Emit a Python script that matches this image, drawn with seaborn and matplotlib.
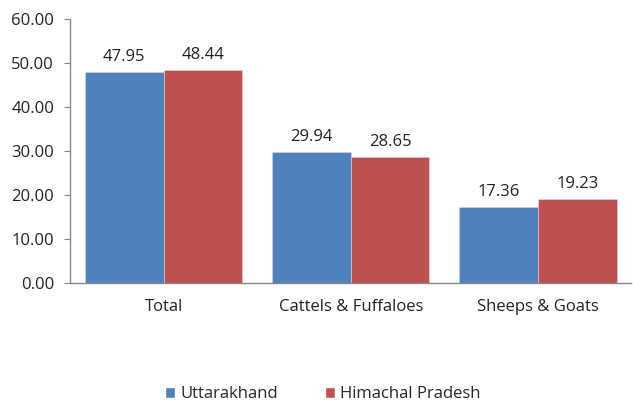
import matplotlib
matplotlib.use("Agg")
import matplotlib.pyplot as plt
import seaborn as sns
import pandas as pd
from matplotlib.patches import Patch

categories = ["Total", "Cattels & Fuffaloes", "Sheeps & Goats"]
series_names = ["Uttarakhand", "Himachal Pradesh"]
uttarakhand = [47.95, 29.94, 17.36]
himachal = [48.44, 28.65, 19.23]
colors = ["#4F81BD", "#C0504D"]

df = pd.DataFrame({
    "category": categories * 2,
    "state": [series_names[0]] * 3 + [series_names[1]] * 3,
    "value": uttarakhand + himachal,
})

sns.set_style("white")
plt.rcParams["font.family"] = ["Open Sans", "DejaVu Sans"]

fig = plt.figure(figsize=(6.33, 4.03), dpi=100)
ax = fig.add_axes([0.1106, 0.297, 0.887, 0.655])

sns.barplot(data=df, x="category", y="value", hue="state", order=categories,
            hue_order=series_names, palette=colors, width=0.84, ax=ax,
            errorbar=None, legend=False, saturation=1,
            edgecolor="#d8d8e8", linewidth=0.4)

for c in ax.containers:
    ax.bar_label(c, fmt="%.2f", padding=5, fontsize=12, color="#222222")

ax.set_xlim(-0.5, 2.5)
ax.set_ylim(0, 60)
ax.set_yticks(range(0, 61, 10))
ax.set_yticklabels([f"{v:.2f}" for v in range(0, 61, 10)], fontsize=12, color="#222222")
ax.set_xticks(range(3))
ax.set_xticklabels(categories, fontsize=12, color="#222222")
ax.tick_params(axis="x", which="major", length=0, pad=11)
ax.set_xticks([0.5, 1.5], minor=True)
ax.tick_params(axis="x", which="minor", length=4, color="#888888", direction="out")
ax.tick_params(axis="y", length=4.5, color="#888888", direction="out", left=True, pad=7)
ax.set_xlabel("")
ax.set_ylabel("")
for s in ["top", "right"]:
    ax.spines[s].set_visible(False)
for s in ["left", "bottom"]:
    ax.spines[s].set_color("#888888")
    ax.spines[s].set_linewidth(1.0)

handles = [Patch(facecolor=colors[i], label=series_names[i]) for i in range(2)]
fig.legend(handles=handles, loc="center", bbox_to_anchor=(0.51, 0.022), ncol=2,
           frameon=False, fontsize=12, handlelength=0.6, handleheight=0.6,
           handletextpad=0.3, columnspacing=2.8, borderpad=0.2)

fig.savefig("out.png", dpi=100)
